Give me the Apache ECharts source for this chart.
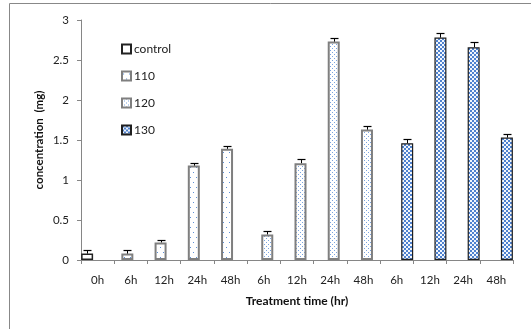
<!DOCTYPE html>
<html>
<head>
<meta charset="utf-8">
<script src="https://cdn.jsdelivr.net/npm/echarts@6/dist/echarts.min.js"></script>
<style>html,body{margin:0;padding:0;background:#fff}#c{width:531px;height:329px}</style>
</head>
<body>
<div id="c"></div>
<script>
// ---- data ----
const categories = ['0h','6h','12h','24h','48h','6h','12h','24h','48h','6h','12h','24h','48h'];
const seriesNames = ['control','110','120','130'];
const controlVals = [0.08,null,null,null,null,null,null,null,null,null,null,null,null];
const s110Vals    = [null,0.08,0.22,1.18,1.39,null,null,null,null,null,null,null,null];
const s120Vals    = [null,null,null,null,null,0.32,1.21,2.73,1.63,null,null,null,null];
const s130Vals    = [null,null,null,null,null,null,null,null,null,1.46,2.78,2.66,1.53];
const controlErr  = [0.04,null,null,null,null,null,null,null,null,null,null,null,null];
const s110Err     = [null,0.04,0.03,0.03,0.04,null,null,null,null,null,null,null,null];
const s120Err     = [null,null,null,null,null,0.04,0.05,0.04,0.04,null,null,null,null];
const s130Err     = [null,null,null,null,null,null,null,null,null,0.05,0.06,0.06,0.05];
const yTicks = {min:0, max:3, interval:0.5};

// ---- patterns ----
function pat(w,h,draw){
  const c=document.createElement('canvas'); c.width=w; c.height=h;
  const g=c.getContext('2d'); g.fillStyle='#fff'; g.fillRect(0,0,w,h); draw(g);
  return {image:c, repeat:'repeat'};
}
const pWhite = '#ffffff';
const pSparse = pat(6,10,g=>{g.fillStyle='#5b8fd6'; g.fillRect(1,2,1,1); g.fillRect(4,7,1,1);});
const pDense = pat(4,4,g=>{g.fillStyle='#7aa3de'; g.fillRect(0,0,1,1); g.fillRect(2,2,1,1);});
const pCheck = pat(4,4,g=>{g.fillStyle='#f2f6fc'; g.fillRect(0,0,4,4); g.fillStyle='#4f82cf'; g.fillRect(0,0,2,2); g.fillRect(2,2,2,2);});
const fills = [pWhite,pSparse,pDense,pCheck];
const borders = ['#222','#7f7f7f','#7f7f7f','#1f1f1f'];
const borderW = [1.5,2,2,1.2];
const vals = [controlVals,s110Vals,s120Vals,s130Vals];
const errs = [controlErr,s110Err,s120Err,s130Err];

const BAR_W = 12, STEP = 7;
const series = [];
vals.forEach((v,k)=>{
  series.push({
    name: seriesNames[k], type:'bar', data:v, barWidth:BAR_W, barGap: (-(BAR_W-STEP)/BAR_W*100)+'%',
    barCategoryGap:'0%',
    itemStyle:{color:fills[k], borderColor:borders[k], borderWidth:borderW[k]},
    emphasis:{disabled:true}, animation:false
  });
});
vals.forEach((v,k)=>{
  const data=[];
  v.forEach((x,i)=>{ if(x!=null) data.push([i,x,errs[k][i]]); });
  const off = -(BAR_W+3*STEP)/2 + BAR_W/2 + k*STEP;
  series.push({
    type:'custom', data:data, z:10, silent:true, animation:false,
    encode:{x:0,y:1},
    renderItem:function(params,api){
      const i=api.value(0), y=api.value(1), e=api.value(2);
      const p0=api.coord([i,y]), p1=api.coord([i,y+e]);
      const x=Math.round(p0[0]+off)+0.5;
      const yt=Math.round(p1[1])+0.5;
      return {type:'group',children:[
        {type:'line',shape:{x1:x,y1:p0[1],x2:x,y2:yt},style:{stroke:'#000',lineWidth:1}},
        {type:'line',shape:{x1:x-4,y1:yt,x2:x+4,y2:yt},style:{stroke:'#000',lineWidth:1.2}}
      ]};
    }
  });
});

const chart = echarts.init(document.getElementById('c'),null,{renderer:'canvas'});
chart.setOption({
  animation:false,
  textStyle:{fontFamily:'Lato, "Open Sans", sans-serif'},
  grid:{left:81,right:18,top:20,bottom:69,containLabel:false},
  legend:{
    data:seriesNames, orient:'vertical', left:116, top:38, itemWidth:9, itemHeight:9, itemGap:15,
    icon:'rect', selectedMode:false,
    textStyle:{fontSize:12, color:'#222', fontFamily:'Lato, sans-serif', padding:[0,0,0,-2]}
  },
  xAxis:{
    type:'category', data:categories, boundaryGap:true,
    axisLine:{lineStyle:{color:'#868686',width:1}},
    axisTick:{show:true,alignWithLabel:false,interval:0,length:4,lineStyle:{color:'#868686'}},
    axisLabel:{interval:0, fontSize:11.5, color:'#222', margin:14}
  },
  yAxis:{
    type:'value', min:yTicks.min, max:yTicks.max, interval:yTicks.interval,
    axisLine:{show:true,lineStyle:{color:'#868686'}},
    axisTick:{show:true,length:4,lineStyle:{color:'#868686'}},
    splitLine:{show:false},
    axisLabel:{fontSize:11.5, color:'#222', margin:12}
  },
  graphic:[
    {type:'rect', shape:{x:9.5,y:3.5,width:700,height:500}, style:{fill:'none',stroke:'#888',lineWidth:1}, silent:true},
    {type:'text', x:297, y:301, style:{text:'Treatment time (hr)', font:'bold 12px Lato, sans-serif', fill:'#111', textAlign:'center', textVerticalAlign:'middle'}},
    {type:'text', x:39, y:140, rotation:Math.PI/2, style:{text:'concentration  (mg)', font:'bold 11.5px Lato, sans-serif', fill:'#111', textAlign:'center', textVerticalAlign:'middle'}}
  ],
  series:series
});
</script>
</body>
</html>
